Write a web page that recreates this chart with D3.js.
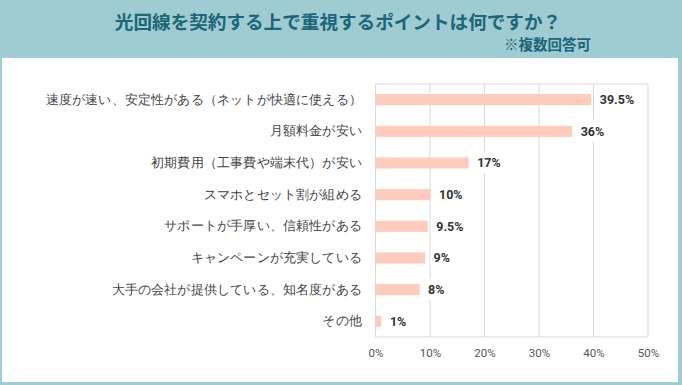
<!DOCTYPE html>
<html>
<head>
<meta charset="utf-8">
<script src="https://cdn.jsdelivr.net/npm/d3@7"></script>
<style>
  body { margin: 0; background: #9fcbd3; }
  svg { display: block; font-family: "Noto Sans CJK JP", "Noto Sans", sans-serif; }
</style>
</head>
<body>
<svg id="chart" width="682" height="385"></svg>
<script>
const categories = [
    "速度が速い、安定性がある（ネットが快適に使える）",
    "月額料金が安い",
    "初期費用（工事費や端末代）が安い",
    "スマホとセット割が組める",
    "サポートが手厚い、信頼性がある",
    "キャンペーンが充実している",
    "大手の会社が提供している、知名度がある",
    "その他"
];
const values = [39.5, 36, 17, 10, 9.5, 9, 8, 1];
const valueLabels = ["39.5%", "36%", "17%", "10%", "9.5%", "9%", "8%", "1%"];
const ticks = [0, 10, 20, 30, 40, 50];

const W = 682, H = 385;
const svg = d3.select("#chart");

svg.append("rect").attr("width", W).attr("height", H).attr("fill", "#9fcbd3");
svg.append("rect").attr("x", 2).attr("y", 58).attr("width", 676).attr("height", 324).attr("fill", "#fff");

svg.append("text")
    .attr("x", 338).attr("y", 29)
    .attr("text-anchor", "middle")
    .attr("font-size", 18.6).attr("font-weight", "bold")
    .attr("fill", "#1b6678")
    .text("光回線を契約する上で重視するポイントは何ですか？");

svg.append("text")
    .attr("x", 591).attr("y", 49.5)
    .attr("text-anchor", "end")
    .attr("font-size", 14.5).attr("font-weight", "bold")
    .attr("fill", "#1b6678")
    .text("※複数回答可");

const m = { left: 375.5, right: 648, top: 84, bottom: 337 };
const x = d3.scaleLinear().domain([0, 50]).range([m.left, m.right]);
const y = d3.scaleBand().domain(categories).range([m.top, m.bottom]).paddingInner(0.65).paddingOuter(0.32);

// grid
const g = svg.append("g");
g.selectAll("line.grid").data(ticks).join("line")
    .attr("x1", d => x(d)).attr("x2", d => x(d))
    .attr("y1", m.top).attr("y2", m.bottom)
    .attr("stroke", "#d9d9d9").attr("stroke-width", 1);
g.append("line").attr("x1", m.left).attr("x2", m.right).attr("y1", m.top).attr("y2", m.top)
    .attr("stroke", "#d9d9d9");
g.append("line").attr("x1", m.left).attr("x2", m.right).attr("y1", m.bottom).attr("y2", m.bottom)
    .attr("stroke", "#d9d9d9");

// x axis labels
const xAxis = d3.axisBottom(x).tickValues(ticks).tickFormat(d => d + "%").tickSize(0).tickPadding(12);
svg.append("g").attr("transform", `translate(0,${m.bottom})`).call(xAxis)
    .call(a => a.select(".domain").remove())
    .selectAll("text")
    .attr("font-family", "Roboto, 'Liberation Sans', sans-serif")
    .attr("font-size", 11.5).attr("fill", "#555");

// y axis labels
const yAxis = d3.axisLeft(y).tickSize(0).tickPadding(13.5);
svg.append("g").attr("transform", `translate(${m.left},0)`).call(yAxis)
    .call(a => a.select(".domain").remove())
    .selectAll("text")
    .attr("font-size", 12.5).attr("letter-spacing", 0.18).attr("fill", "#444");

// bars
svg.append("g").selectAll("rect").data(values).join("rect")
    .attr("x", x(0) + 0.5)
    .attr("y", (d, i) => y(categories[i]))
    .attr("width", d => x(d) - x(0))
    .attr("height", y.bandwidth())
    .attr("fill", "#ffcbbd");

// value labels with white background
const lbl = svg.append("g").selectAll("g").data(values).join("g")
    .attr("transform", (d, i) => `translate(${x(d) + 9},${y(categories[i]) + y.bandwidth() / 2})`);
lbl.append("text")
    .attr("dy", "0.35em")
    .attr("font-family", "Roboto, 'Liberation Sans', sans-serif")
    .attr("font-size", 12.5).attr("font-weight", "bold")
    .attr("fill", "#333")
    .text((d, i) => valueLabels[i]);
lbl.each(function () {
    const t = d3.select(this).select("text");
    const bb = t.node().getBBox();
    d3.select(this).insert("rect", "text")
        .attr("x", bb.x - 3).attr("y", bb.y - 3)
        .attr("width", bb.width + 6).attr("height", bb.height + 6)
        .attr("fill", "#fff");
});
</script>
</body>
</html>
